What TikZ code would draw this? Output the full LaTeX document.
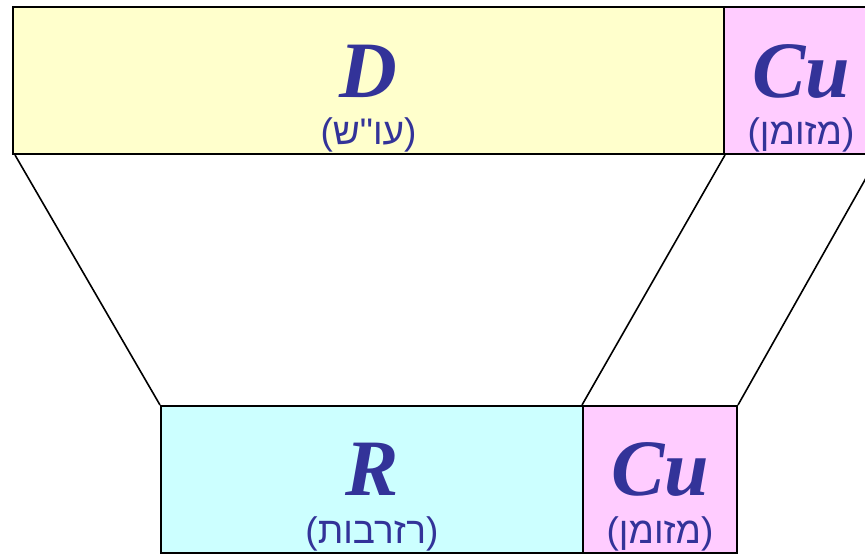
\documentclass[tikz,border=0pt]{standalone}
\usepackage{fontspec}
\setmainfont{Liberation Serif}
\newfontfamily\hebfont[Script=Hebrew]{Liberation Sans}
\newfontfamily\parfont{Liberation Sans}
\TeXXeTstate=1
\newcommand{\hebpar}[1]{{\parfont(}\beginR #1\endR{\parfont)}}
\definecolor{yel}{HTML}{FFFFCC}
\definecolor{pnk}{HTML}{FFCCFF}
\definecolor{cyn}{HTML}{CCFFFF}
\definecolor{ink}{HTML}{333399}
\tikzset{
  box/.style={draw, line width=2pt, anchor=north west, minimum height=147pt, inner sep=0pt},
  biglab/.style={anchor=base, text=ink, font=\fontsize{80}{80}\selectfont\bfseries\itshape, inner sep=0pt},
  heblab/.style={anchor=base, text=ink, font=\fontsize{37}{37}\selectfont\hebfont, inner sep=0pt}
}
\begin{document}
\begin{tikzpicture}[x=1pt,y=-1pt]
    \useasboundingbox (0,0) rectangle (865,554);
    \node[box, fill=yel, minimum width=711pt] (dep) at (12,6) {};
    \node[box, fill=pnk, minimum width=154pt] (cutop) at (723,6) {};
    \node[box, fill=cyn, minimum width=422pt] (res) at (160,405) {};
    \node[box, fill=pnk, minimum width=154pt] (cubot) at (582,405) {};
    \draw[line width=1.6pt] ([xshift=3pt]dep.south west) -- (res.north west);
    \draw[line width=1.6pt] (dep.south east) -- (cubot.north west);
    \draw[line width=1.6pt] (cutop.south east) -- (cubot.north east);
    \node[biglab] (dlab) at ([yshift=-91pt]dep.north) {D};
    \node[heblab] (dheb) at ([yshift=-138pt]dep.north) {\hebpar{עו"ש}};
    \node[biglab] (culab) at ([yshift=-91pt]cutop.north) {Cu};
    \node[heblab] (cuheb) at ([yshift=-138pt]cutop.north) {\hebpar{מזומן}};
    \node[biglab] (rlab) at ([yshift=-90pt]res.north) {R};
    \node[heblab] (rheb) at ([yshift=-138pt]res.north) {\hebpar{רזרבות}};
    \node[biglab] (cublab) at ([yshift=-90pt]cubot.north) {Cu};
    \node[heblab] (cubheb) at ([yshift=-138pt]cubot.north) {\hebpar{מזומן}};
\end{tikzpicture}
\end{document}
